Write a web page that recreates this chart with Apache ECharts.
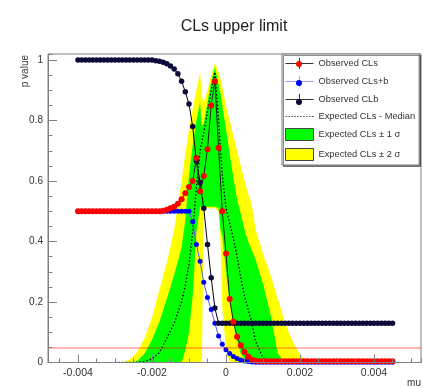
<!DOCTYPE html>
<html><head><meta charset="utf-8">
<script src="https://cdn.jsdelivr.net/npm/echarts@6/dist/echarts.min.js"></script>
<style>html,body{margin:0;padding:0;background:#fff}#c{width:423px;height:388px}</style>
</head><body><div id="c"></div>
<script>
// ---- data ----
const muScan = [
 -0.0040,-0.0039,-0.0038,-0.0037,-0.0036,-0.0035,-0.0034,-0.0033,-0.0032,-0.0031,
 -0.0030,-0.0029,-0.0028,-0.0027,-0.0026,-0.0025,-0.0024,-0.0023,-0.0022,-0.0021,
 -0.0020,-0.0019,-0.0018,-0.0017,-0.0016,-0.0015,-0.0014,-0.0013,-0.0012,-0.0011,
 -0.0010,-0.0009,-0.0008,-0.0007,-0.0006,-0.0005,-0.0004,-0.0003,-0.0002,-0.0001,
 0,0.0001,0.0002,0.0003,0.0004,0.0005,0.0006,0.0007,0.0008,0.0009,
 0.0010,0.0011,0.0012,0.0013,0.0014,0.0015,0.0016,0.0017,0.0018,0.0019,
 0.0020,0.0021,0.0022,0.0023,0.0024,0.0025,0.0026,0.0027,0.0028,0.0029,
 0.0030,0.0031,0.0032,0.0033,0.0034,0.0035,0.0036,0.0037,0.0038,0.0039,
 0.0040,0.0041,0.0042,0.0043,0.0044,0.0045
];
const clsObs = [
 0.5,0.5,0.5,0.5,0.5,0.5,0.5,0.5,0.5,0.5,
 0.5,0.5,0.5,0.5,0.5,0.5,0.5,0.5,0.5,0.5,
 0.5,0.5,0.5,0.502,0.505,0.51,0.515,0.525,0.54,0.56,
 0.58,0.6,0.676,0.566,0.617,0.705,0.85,0.93,0.71,0.5,
 0.36,0.21,0.135,0.085,0.057,0.035,0.02,0.01,0.006,0.004,
 0.004,0.004,0.004,0.004,0.004,0.004,0.004,0.004,0.004,0.004,
 0.004,0.004,0.004,0.004,0.004,0.004,0.004,0.004,0.004,0.004,
 0.004,0.004,0.004,0.004,0.004,0.004,0.004,0.004,0.004,0.004,
 0.004,0.004,0.004,0.004,0.004,0.004
];
const clsbObs = [
 0.5,0.5,0.5,0.5,0.5,0.5,0.5,0.5,0.5,0.5,
 0.5,0.5,0.5,0.5,0.5,0.5,0.5,0.5,0.5,0.5,
 0.5,0.5,0.5,0.5,0.5,0.5,0.5,0.5,0.5,0.5,
 0.5,0.465,0.39,0.335,0.265,0.215,0.175,0.13,0.088,0.06,
 0.042,0.03,0.02,0.013,0.008,0.005,0.003,0.002,0.001,0.001,
 0.001,0.001,0.001,0.001,0.001,0.001,0.001,0.001,0.001,0.001,
 0.001,0.001,0.001,0.001,0.001,0.001,0.001,0.001,0.001,0.001,
 0.001,0.001,0.001,0.001,0.001,0.001,0.001,0.001,0.001,0.001,
 0.001,0.001,0.001,0.001,0.001,0.001
];
const clbObs = [
 1,1,1,1,1,1,1,1,1,1,
 1,1,1,1,1,1,1,1,1,1,
 1,0.998,0.996,0.993,0.988,0.98,0.97,0.955,0.93,0.895,
 0.855,0.78,0.665,0.595,0.51,0.39,0.28,0.18,0.13,0.13,
 0.13,0.13,0.13,0.13,0.13,0.13,0.13,0.13,0.13,0.13,
 0.13,0.13,0.13,0.13,0.13,0.13,0.13,0.13,0.13,0.13,
 0.13,0.13,0.13,0.13,0.13,0.13,0.13,0.13,0.13,0.13,
 0.13,0.13,0.13,0.13,0.13,0.13,0.13,0.13,0.13,0.13,
 0.13,0.13,0.13,0.13,0.13,0.13
];
const muBand = [
 -0.0030,-0.0028,-0.0026,-0.0024,-0.0022,-0.0020,-0.0018,-0.0016,-0.0014,-0.0012,
 -0.0011,-0.0010,-0.0009,-0.0008,-0.0007,-0.00065,-0.0006,-0.0005,-0.0004,-0.0003,
 -0.0002,-0.00015,-0.0001,0,0.0001,0.0002,0.0003,0.0004,0.0005,0.0006,
 0.0007,0.0008,0.0010,0.0012,0.0014,0.0016,0.0018,0.0020,0.0022,0.0024
];
const expLo2 = [
 0,0,0,0,0,0,0,0,0,0,
 0,0,0,0,0,0.01,0.51,0.51,0.51,0.51,
 0.5,0.41,0.18,0.045,0,0,0,0,0,0,
 0,0,0,0,0,0,0,0,0,0
];
const expLo1 = [
 0,0,0,0,0,0,0,0,0,0,
 0.04,0.1,0.22,0.43,0.515,0.515,0.515,0.515,0.515,0.515,
 0.51,0.44,0.42,0.3,0.2,0.13,0.07,0.03,0.01,0,
 0,0,0,0,0,0,0,0,0,0
];
const expMedian = [
 0,0,0,0,0.003,0.012,0.033,0.08,0.13,0.2,
 0.255,0.325,0.43,0.58,0.7,0.73,0.76,0.83,0.9,0.96,
 0.8,0.7,0.62,0.51,0.46,0.41,0.35,0.28,0.22,0.175,
 0.13,0.07,0.015,0.003,0,0,0,0,0,0
];
const expHi1 = [
 0,0,0,0.005,0.03,0.075,0.135,0.21,0.29,0.38,
 0.47,0.62,0.72,0.8,0.86,0.78,0.79,0.86,0.93,0.975,
 0.92,0.89,0.85,0.77,0.69,0.61,0.54,0.49,0.44,0.4,
 0.37,0.34,0.26,0.16,0.03,0,0,0,0,0
];
const expHi2 = [
 0,0,0.01,0.035,0.08,0.15,0.24,0.33,0.44,0.6,
 0.69,0.77,0.84,0.9,0.96,0.88,0.86,0.9,0.95,0.99,
 0.96,0.94,0.91,0.85,0.8,0.75,0.7,0.65,0.6,0.56,
 0.52,0.44,0.36,0.29,0.21,0.13,0.07,0.025,0.005,0
];
const clsLimit = 0.05;
const xRange = [-0.00481, 0.00527];
const yRange = [0, 1.02];

// ---- chart ----
const FONT = "'Liberation Sans', Arial, Helvetica, sans-serif";
const zip = (xs, ys) => xs.map((x, i) => [x, ys[i]]);
const chart = echarts.init(document.getElementById('c'), null, {renderer: 'canvas'});
const axisGray = '#808080';

// legend icon shapes (styling only)
const OBS_ICON = 'path://M0,5.5h28v1h-28z M13.5,0.5h1v11h-1z';
let dots = '';
for (let i = 0; i < 28; i += 3) dots += 'M' + i + ',5.5h1.6v1h-1.6z ';
const MED_ICON = 'path://' + dots;

const areaSeries = (name, ys, color, z) => ({
  name, type: 'line', data: zip(muBand, ys), symbol: 'none', silent: true, z,
  lineStyle: {width: 0, opacity: 0}, itemStyle: {color},
  areaStyle: {color, opacity: 1}
});

chart.setOption({
  animation: false,
  backgroundColor: '#fff',
  textStyle: {fontFamily: FONT},
  grid: {left: 48, right: 2, top: 54, bottom: 25.5, show: true, borderColor: axisGray, borderWidth: 1, backgroundColor: 'transparent'},
  graphic: [
    {type: 'text', x: 234, y: 27, style: {text: 'CLs upper limit', fontSize: 16, fontFamily: FONT, fill: '#222', align: 'center', verticalAlign: 'middle'}},
    {type: 'text', x: 25, y: 55, rotation: Math.PI / 2, style: {text: 'p value', fontSize: 10, fontFamily: FONT, fill: '#333', align: 'right', verticalAlign: 'middle'}},
    {type: 'text', x: 421, y: 383, style: {text: 'mu', fontSize: 10, fontFamily: FONT, fill: '#333', align: 'right', verticalAlign: 'middle'}}
  ],
  legend: [
    {
      orient: 'vertical', left: 282, top: 54, itemWidth: 28, itemHeight: 12, itemGap: 7,
      padding: [4, 4, 4, 3], backgroundColor: '#fff', borderColor: '#777', borderWidth: 1,
      shadowColor: 'rgba(0,0,0,0.45)', shadowOffsetX: 1.5, shadowOffsetY: 1.5, shadowBlur: 0,
      selectedMode: false, z: 10,
      textStyle: {fontSize: 9.3, color: '#333', fontFamily: FONT},
      data: [
        {name: 'Observed CLs', icon: OBS_ICON, itemStyle: {color: '#333', borderWidth: 0}},
        {name: 'Observed CLs+b', icon: OBS_ICON, itemStyle: {color: '#9a9aff', borderWidth: 0}},
        {name: 'Observed CLb', icon: OBS_ICON, itemStyle: {color: '#333', borderWidth: 0}},
        {name: 'Expected CLs - Median', icon: MED_ICON, itemStyle: {color: '#555', borderWidth: 0}},
        {name: 'Expected CLs ± 1 σ', icon: 'rect', itemStyle: {color: '#00ff00', borderColor: '#444', borderWidth: 1}},
        {name: 'Expected CLs ± 2 σ', icon: 'rect', itemStyle: {color: '#ffff00', borderColor: '#444', borderWidth: 1}}
      ]
    },
    {
      orient: 'vertical', left: 296, top: 61, itemWidth: 6, itemHeight: 6, itemGap: 13,
      padding: 0, selectedMode: false, z: 11, formatter: () => '',
      textStyle: {fontSize: 1, color: 'rgba(0,0,0,0)'},
      data: [
        {name: 'Observed CLs', icon: 'circle', itemStyle: {color: '#ff0000', borderWidth: 0}},
        {name: 'Observed CLs+b', icon: 'circle', itemStyle: {color: '#0000ff', borderWidth: 0}},
        {name: 'Observed CLb', icon: 'circle', itemStyle: {color: '#0b0b3b', borderWidth: 0}}
      ]
    }
  ],
  xAxis: [
    {type: 'value', position: 'bottom', min: xRange[0], max: xRange[1], splitNumber: 5, z: 10,
     axisLine: {show: true, onZero: false, lineStyle: {color: axisGray}},
     axisTick: {inside: true, length: 8, lineStyle: {color: axisGray}},
     axisLabel: {fontSize: 10.5, color: '#333', margin: 5, showMinLabel: false, showMaxLabel: false, fontFamily: FONT},
     splitLine: {show: false}},
    {type: 'value', position: 'bottom', min: xRange[0], max: xRange[1], splitNumber: 20, z: 10,
     axisLine: {show: false, onZero: false}, axisTick: {inside: true, length: 4, lineStyle: {color: axisGray}},
     axisLabel: {show: false}, splitLine: {show: false}}
  ],
  yAxis: [
    {type: 'value', position: 'left', min: yRange[0], max: yRange[1], interval: 0.2, z: 10,
     axisLine: {show: true, onZero: false, lineStyle: {color: axisGray}},
     axisTick: {inside: true, length: 9, lineStyle: {color: axisGray}},
     axisLabel: {fontSize: 10, color: '#333', margin: 5, showMaxLabel: false, fontFamily: FONT},
     splitLine: {show: false}},
    {type: 'value', position: 'left', min: yRange[0], max: yRange[1], interval: 0.05, z: 10,
     axisLine: {show: false, onZero: false}, axisTick: {inside: true, length: 4.5, lineStyle: {color: axisGray}},
     axisLabel: {show: false}, splitLine: {show: false}}
  ],
  series: [
    areaSeries('Expected CLs ± 2 σ', expHi2, '#ffff00', 1),
    areaSeries('Expected CLs ± 1 σ', expHi1, '#00ff00', 1),
    areaSeries('band2LowerEdge', expLo1, '#ffff00', 1),
    areaSeries('bandBelow', expLo2, '#ffffff', 1),
    {name: 'Expected CLs - Median', type: 'line', data: zip(muBand, expMedian), symbol: 'none',
     lineStyle: {color: '#000', width: 1.4, type: [1.5, 2]}, itemStyle: {color: '#000'}, z: 2,
     markLine: {silent: true, symbol: 'none', label: {show: false},
       lineStyle: {color: 'rgba(255,0,0,0.38)', width: 1.5, type: 'solid'}, data: [{yAxis: clsLimit}]}},
    {name: 'Observed CLs+b', type: 'line', data: zip(muScan, clsbObs), symbol: 'circle', symbolSize: 5, showAllSymbol: true,
     lineStyle: {color: '#5555ff', width: 1}, itemStyle: {color: '#0000ff'}, z: 3},
    {name: 'Observed CLb', type: 'line', data: zip(muScan, clbObs), symbol: 'circle', symbolSize: 5.5, showAllSymbol: true,
     lineStyle: {color: '#000', width: 1}, itemStyle: {color: '#0b0b3b'}, z: 4},
    {name: 'Observed CLs', type: 'line', data: zip(muScan, clsObs), symbol: 'circle', symbolSize: 6, showAllSymbol: true,
     lineStyle: {color: '#222', width: 1}, itemStyle: {color: '#ff0000'}, z: 5}
  ]
});
</script>
</body></html>
